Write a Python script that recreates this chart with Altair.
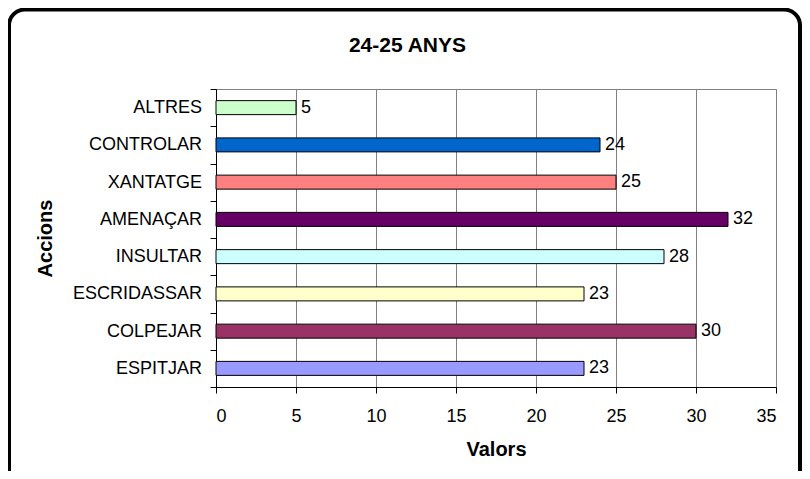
import altair as alt
import pandas as pd

categories = ["ALTRES", "CONTROLAR", "XANTATGE", "AMENAÇAR", "INSULTAR",
              "ESCRIDASSAR", "COLPEJAR", "ESPITJAR"]
values = [5, 24, 25, 32, 28, 23, 30, 23]
colors = ["#CCFFCC", "#0066CC", "#FF8080", "#660066", "#CCFFFF",
          "#FFFFCC", "#993366", "#9999FF"]
x_ticks = [0, 5, 10, 15, 20, 25, 30, 35]
chart_title = "24-25 ANYS"
x_title = "Valors"
y_title = "Accions"

df = pd.DataFrame({"cat": categories, "val": values})

W, H = 560, 298
FONT = "Liberation Sans"

y_enc = alt.Y(
    "cat:N", sort=categories,
    scale=alt.Scale(paddingInner=0, paddingOuter=0),
    axis=alt.Axis(
        tickBand="extent", ticks=True, tickSize=6, tickColor="black",
        domainColor="black", domainWidth=1, grid=False,
        labelFontSize=18, labelColor="black", labelPadding=8.5,
        labelBaseline="middle",
        title=y_title, titleFontSize=20, titleFontWeight="bold",
        titleColor="black", titleAngle=-90, titleX=-164.5, titleY=H / 2,
        titleAlign="center", titleBaseline="alphabetic",
    ),
)
x_enc = alt.X(
    "val:Q",
    scale=alt.Scale(domain=[0, 35], nice=False),
    axis=alt.Axis(
        values=x_ticks, grid=True, gridColor="#808080", gridWidth=1,
        gridOpacity=1, ticks=True, tickSize=6, tickColor="black",
        domainColor="black", domainWidth=1,
        labelFontSize=18, labelColor="black", labelPadding=28.5,
        labelBaseline="alphabetic",
        title=x_title, titleFontSize=20, titleFontWeight="bold",
        titleColor="black", titleX=W / 2, titleY=68,
        titleAlign="center", titleBaseline="alphabetic",
    ),
)

bars = alt.Chart(df).mark_bar(height=14, stroke="black", strokeWidth=1).encode(
    y=y_enc,
    x=x_enc,
    color=alt.Color("cat:N", scale=alt.Scale(domain=categories, range=colors),
                    legend=None),
)

labels = alt.Chart(df).mark_text(
    align="left", baseline="middle", dx=5, fontSize=18, color="black"
).encode(
    y=alt.Y("cat:N", sort=categories),
    x=alt.X("val:Q"),
    text=alt.Text("val:Q"),
)

border = alt.Chart(pd.DataFrame({"k": [0]})).mark_rect(
    fill="transparent", stroke="black", strokeWidth=4, cornerRadius=16
).encode(
    x=alt.value(-207), x2=alt.value(584),
    y=alt.value(-79.5), y2=alt.value(400),
)

title = alt.Chart(pd.DataFrame({"t": [chart_title]})).mark_text(
    align="center", baseline="alphabetic", fontSize=21, fontWeight="bold",
    color="black"
).encode(
    text="t:N", x=alt.value(191.5), y=alt.value(-37),
)

chart = alt.layer(bars, labels, border, title).properties(
    width=W, height=H,
    autosize=alt.AutoSizeParams(type="none"),
    padding={"left": 208, "top": 81, "right": 26, "bottom": 84},
).configure(
    font=FONT,
).configure_view(
    stroke="#808080", strokeWidth=1,
)

chart.save("out.html", embed_options={"renderer": "svg", "actions": False})
